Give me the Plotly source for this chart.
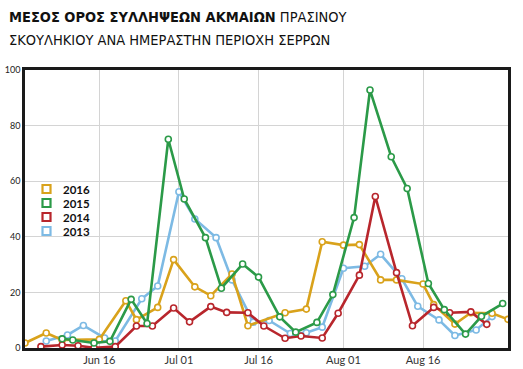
import plotly.graph_objects as go

YEAR = "2000-"

# 2016 (orange)
dates_2016 = ["06-02", "06-06", "06-09", "06-16", "06-21", "06-23", "06-27", "06-30",
              "07-04", "07-07", "07-11", "07-14", "07-21", "07-25", "07-28", "08-01",
              "08-04", "08-08", "08-11", "08-16", "08-18", "08-22", "08-25", "08-29", "09-01"]
vals_2016 = [1.8, 5.4, 2.9, 3.1, 17, 10.2, 14.6, 31.8,
             22, 18.8, 26.6, 8, 12.7, 14, 38.2, 37,
             37.2, 24.5, 24.5, 23, 15.6, 8.6, 12.7, 12.5, 10.3]

# 2015 (green)
dates_2015 = ["06-09", "06-11", "06-15", "06-18", "06-22", "06-25", "06-29", "07-02",
              "07-06", "07-09", "07-13", "07-16", "07-20", "07-23", "07-27", "07-30",
              "08-03", "08-06", "08-10", "08-13", "08-17", "08-20", "08-24", "08-27", "08-31"]
vals_2015 = [3.3, 2.9, 1.8, 2.4, 17.5, 8.8, 75.1, 53.6,
             39.7, 21.5, 30.2, 25.5, 11.2, 5.7, 9.2, 19.2,
             46.9, 92.8, 68.8, 57.4, 23.2, 13.8, 5.0, 11.4, 16]

# 2014 (red)
dates_2014 = ["06-05", "06-09", "06-12", "06-15", "06-19", "06-23", "06-26", "06-30",
              "07-03", "07-07", "07-10", "07-14", "07-17", "07-21", "07-24", "07-28",
              "07-31", "08-04", "08-07", "08-11", "08-14", "08-18", "08-21", "08-25", "08-28"]
vals_2014 = [0.5, 1.1, 0.8, 0.1, 0.5, 7.9, 7.9, 14.4,
             9.4, 14.9, 12.8, 12.7, 7.9, 3.5, 4.3, 3.6,
             12.5, 26.2, 54.5, 27.1, 8, 14.6, 12.7, 13, 8.5]

# 2013 (blue)
dates_2013 = ["06-06", "06-10", "06-13", "06-17", "06-19", "06-24", "06-27", "07-01",
              "07-04", "07-08", "07-11", "07-15", "07-18", "07-22", "07-25", "07-28",
              "08-01", "08-05", "08-08", "08-12", "08-15", "08-19", "08-22", "08-26", "08-29"]
vals_2013 = [2.5, 4.7, 8.1, 3.6, 2.5, 17.7, 22.3, 56.2,
             46.4, 39.7, 24.5, 9.3, 9.9, 5.2, 5.5, 7.5,
             28.7, 29.4, 33.7, 24.9, 15, 10.1, 4.5, 6.5, 11.3]

series_names = ["2016", "2015", "2014", "2013"]
colors = {"2016": "#D9A21B", "2015": "#2B9A48", "2014": "#B8262C", "2013": "#7DBAE4"}

tick_dates = ["06-16", "07-01", "07-16", "08-01", "08-16"]
tick_labels = ["Jun 16", "Jul 01", "Jul 16", "Aug 01", "Aug 16"]

data = {
    "2016": (dates_2016, vals_2016),
    "2015": (dates_2015, vals_2015),
    "2014": (dates_2014, vals_2014),
    "2013": (dates_2013, vals_2013),
}

W, H = 523, 369
ML, MR, MT, MB = 25, 15, 70, 21
PW, PH = W - ML - MR, H - MT - MB

fig = go.Figure()

# drawing order
for name in ["2013", "2016", "2014", "2015"]:
    d, v = data[name]
    fig.add_trace(go.Scatter(
        x=[YEAR + s for s in d], y=v, mode="lines+markers", name=name,
        showlegend=False,
        line=dict(color=colors[name], width=2.6),
        marker=dict(symbol="circle", size=6, color="white",
                    line=dict(color=colors[name], width=1.6)),
    ))

fig.update_layout(
    width=W, height=H,
    margin=dict(l=ML, r=MR, t=MT, b=MB, autoexpand=False),
    paper_bgcolor="white", plot_bgcolor="white",
    font=dict(family="Lato, DejaVu Sans, sans-serif", color="#222"),
    showlegend=False,
)

fig.update_xaxes(
    type="date", automargin=False,
    range=[YEAR + "06-02", YEAR + "09-01"],
    tickvals=[YEAR + s for s in tick_dates], ticktext=tick_labels,
    showgrid=True, gridcolor="#d4d4d4", gridwidth=1,
    showline=True, linecolor="#1a1a1a", linewidth=2.5, mirror=True,
    ticks="", tickfont=dict(size=11, color="#333"),
    zeroline=False,
)
fig.update_yaxes(
    range=[0, 100], tickvals=[0, 20, 40, 60, 80, 100], automargin=False,
    showgrid=True, gridcolor="#d4d4d4", gridwidth=1,
    showline=True, linecolor="#1a1a1a", linewidth=2.5, mirror=True,
    ticks="", tickfont=dict(size=9, color="#222"),
    zeroline=False,
)

# legend drawn as paper-positioned squares + labels
def px_to_paper(px, py):
    return (px - ML) / PW, (H - MB - py) / PH

for i, name in enumerate(series_names):
    cy = 189 + 14 * i
    x0, y0 = px_to_paper(42.5, cy + 4)
    x1, y1 = px_to_paper(50.5, cy - 4)
    fig.add_shape(type="rect", xref="paper", yref="paper", x0=x0, y0=y0, x1=x1, y1=y1,
                  line=dict(color=colors[name], width=2.2), fillcolor="white")
    tx, ty = px_to_paper(61, cy)
    fig.add_annotation(xref="paper", yref="paper", x=tx, y=ty, xanchor="left", yanchor="middle",
                       text="<b>" + name + "</b>", showarrow=False,
                       font=dict(size=11.5, color="#111", family="Lato, DejaVu Sans, sans-serif"))

title_font = "Liberation Sans Narrow, DejaVu Sans Condensed, Arial Narrow, sans-serif"
tx, ty1 = px_to_paper(7, 17)
_, ty2 = px_to_paper(7, 40)
fig.add_annotation(
    xref="paper", yref="paper", x=tx, y=ty1, xanchor="left", yanchor="middle",
    text="<b>ΜΕΣΟΣ ΟΡΟΣ ΣΥΛΛΗΨΕΩΝ ΑΚΜΑΙΩΝ</b> ΠΡΑΣΙΝΟΥ", showarrow=False,
    font=dict(family=title_font, size=14.5, color="#111"),
)
fig.add_annotation(
    xref="paper", yref="paper", x=tx, y=ty2, xanchor="left", yanchor="middle",
    text="ΣΚΟΥΛΗΚΙΟΥ ΑΝΑ ΗΜΕΡΑΣΤΗΝ ΠΕΡΙΟΧΗ ΣΕΡΡΩΝ", showarrow=False,
    font=dict(family=title_font, size=14.5, color="#111"),
)

fig.write_html("out.html", config={"displayModeBar": False},
               post_script="document.body.style.margin='0';document.body.style.overflow='hidden';")
